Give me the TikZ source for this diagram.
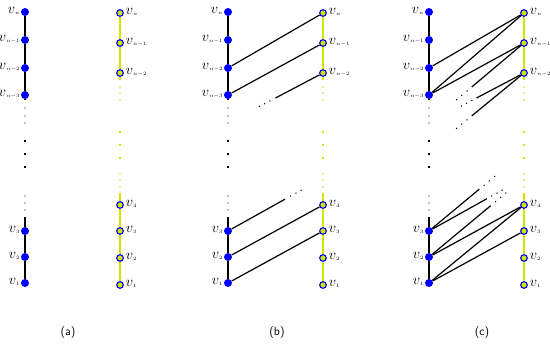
\documentclass[tikz,border=0pt]{standalone}
\usetikzlibrary{calc}
\definecolor{ylw}{RGB}{208,230,0}
\definecolor{nodeblue}{RGB}{0,0,255}
\newcommand{\vsub}[1]{$v$\raisebox{-1.3pt}{\fontsize{4.2}{4.2}\selectfont$#1$}}

\begin{document}
\begin{tikzpicture}[x=1pt, y=-1pt,
    lnode/.style={circle, fill=nodeblue, inner sep=0pt, minimum size=8pt},
    rnode/.style={circle, draw=nodeblue, fill=ylw, line width=1.1pt, inner sep=0pt, minimum size=6.6pt},
    lbl/.style={inner sep=0.3pt, font=\fontsize{14}{14}\selectfont},
    captext/.style={font=\sffamily\fontsize{12}{12}\selectfont},
    edge/.style={line width=1.2pt}]
\useasboundingbox (0,0) rectangle (550,345);

\foreach \p/\dx/\cx in {a/25/68, b/228/277, c/429/482} {
    \begin{scope}[xshift=\dx pt]
        % left column
        \foreach \nm/\y/\s in {n/12/n, n1/40/n{-}1, n2/68/n{-}2, n3/95/n{-}3, 3/231/3, 2/257/2, 1/283/1}
            \node[lnode, label={[lbl, label distance=0.8pt, yshift=1pt]left:\vsub{\s}}] (\p-L\nm) at (0,\y) {};
        \coordinate (\p-Lbrk) at (0,100);
        \coordinate (\p-Lres) at (0,217);
        \coordinate (\p-Ln4) at (0,123);
        \coordinate (\p-Ln5) at (0,151);
        \draw[line width=1.3pt] (\p-Ln) -- (\p-Ln1) -- (\p-Ln2) -- (\p-Ln3) -- (\p-Lbrk);
        \draw[line width=1.3pt] (\p-Lres) -- (\p-L3) -- (\p-L2) -- (\p-L1);
        \foreach \y in {108,116,123,196,203,210}
            \fill (0,\y) circle (0.7);
        \foreach \y in {141,154,167}
            \fill (-1.3,{\y-1.3}) rectangle ++(2.6,2.6);
        % right column
        \foreach \nm/\y/\s in {n/13/n, n1/43/n{-}1, n2/73/n{-}2, 4/205/4, 3/231/3, 2/258/2, 1/285/1}
            \node[rnode, label={[lbl, label distance=1.5pt, yshift=1pt]right:\vsub{\s}}] (\p-R\nm) at (95,\y) {};
        \coordinate (\p-Rbrk) at (95,80);
        \coordinate (\p-Rres) at (95,193);
        \coordinate (\p-R5) at (95,178);
        \coordinate (\p-R6) at (95,152);
        \draw[ylw, line width=1.8pt] (\p-Rn) -- (\p-Rn1) -- (\p-Rn2) -- (\p-Rbrk);
        \draw[ylw, line width=1.8pt] (\p-Rres) -- (\p-R4) -- (\p-R3) -- (\p-R2) -- (\p-R1);
        \foreach \y in {87,93,100,174,180,187}
            \fill[ylw] (95,\y) circle (0.8);
        \foreach \y in {132,145,158}
            \fill[ylw] (93.7,{\y-1.3}) rectangle ++(2.6,2.6);
    \end{scope}
    \node[captext] (\p-cap) at (\cx,333) {(\p)};
}

% (b)
\draw[edge] (b-Ln2) -- (b-Rn);
\draw[edge] (b-Ln3) -- (b-Rn1);
\draw[edge] (b-L1) -- (b-R3);
\draw[edge] (b-L2) -- (b-R4);

% (c)
\draw[edge] (c-Ln2) -- (c-Rn);
\draw[edge] (c-Ln3) -- (c-Rn);
\draw[edge] (c-Ln3) -- (c-Rn1);
\draw[edge] (c-L1) -- (c-R3);
\draw[edge] (c-L1) -- (c-R4);
\draw[edge] (c-L2) -- (c-R4);

% broken edges, each followed by three dots
\foreach \i/\s/\t/\e/\d in {1/b-Rn2/b-Ln4/0.5/0.56, 2/b-L3/b-R5/0.6/0.66,
        3/c-Rn1/c-Ln4/0.55/0.6, 4/c-Rn2/c-Ln4/0.5/0.55, 5/c-Rn2/c-Ln5/0.55/0.6,
        6/c-L3/c-R6/0.53/0.58, 7/c-L3/c-R5/0.61/0.66, 8/c-L2/c-R5/0.65/0.7} {
    \coordinate (stub\i) at ($(\s)!\e!(\t)$);
    \draw[edge] (\s) -- (stub\i);
    \foreach \k in {0,1,2} {
        \pgfmathsetmacro\f{\d+0.055*\k}
        \fill ($(\s)!\f!(\t)$) circle (0.75);
    }
}
\end{tikzpicture}
\end{document}
